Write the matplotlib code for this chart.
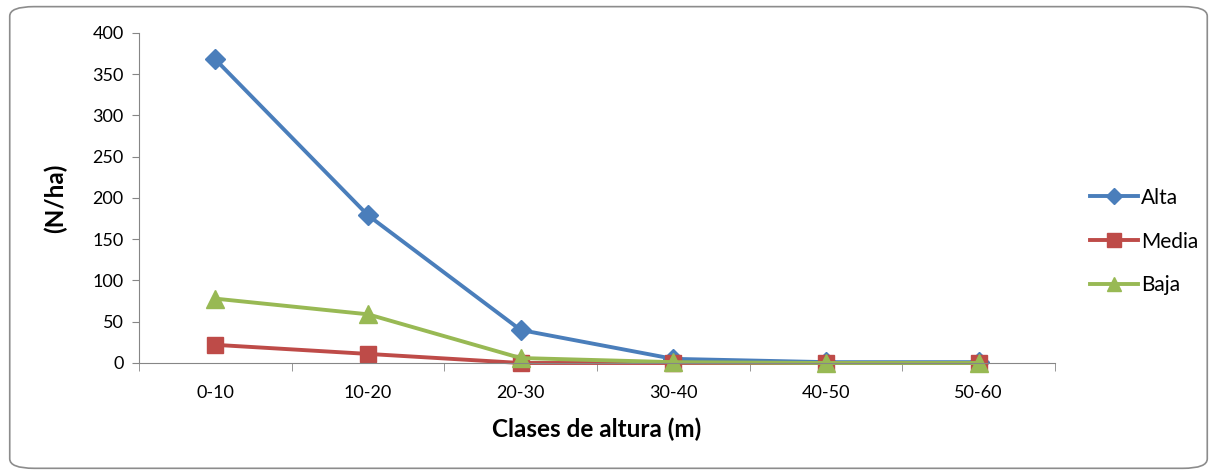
import numpy as np
from matplotlib import pyplot as plt
from matplotlib.patches import FancyBboxPatch

clases = ['0-10', '10-20', '20-30', '30-40', '40-50', '50-60']
alta = [368, 179, 40, 5, 1, 1]
media = [22, 11, 0, 0, 0, 0]
baja = [78, 59, 6, 1, 0, 0]

plt.rcParams['font.family'] = ['Lato', 'DejaVu Sans']

fig = plt.figure(figsize=(12.17, 4.74), dpi=100)
# rounded frame round the whole chart
frame = FancyBboxPatch((0.008, 0.012), 0.984, 0.974, boxstyle='round,pad=0,rounding_size=0.02',
                       transform=fig.transFigure, fill=False, edgecolor='#8c8c8c', linewidth=1.2)
fig.patches.append(frame)

ax = fig.add_axes([0.1142, 0.2342, 0.7527, 0.6962])
x = np.arange(len(clases))
ax.plot(x, alta, color='#4a7ebb', lw=2.8, marker='D', ms=10, label='Alta', clip_on=False)
ax.plot(x, media, color='#be4b48', lw=2.8, marker='s', ms=12, label='Media', clip_on=False)
ax.plot(x, baja, color='#98b954', lw=2.8, marker='^', ms=13, label='Baja', clip_on=False)

ax.set_xlim(-0.5, len(clases) - 0.5)
ax.set_ylim(0, 400)
ax.set_yticks(range(0, 401, 50))
ax.set_xticks(x)
ax.set_xticklabels(clases)
ax.set_xticks(np.arange(-0.5, len(clases), 1), minor=True)
ax.tick_params(axis='x', which='major', length=0, pad=16, labelsize=13)
ax.tick_params(axis='x', which='minor', length=6, color='#868686')
ax.tick_params(axis='y', length=5, color='#868686', labelsize=13, pad=6)
for s in ['top', 'right']:
    ax.spines[s].set_visible(False)
ax.spines['left'].set_color('#868686')
ax.spines['bottom'].set_color('#868686')
ax.patch.set_alpha(0)

ax.set_xlabel('Clases de altura (m)', fontsize=17.5, fontweight='bold', labelpad=12)
ax.set_ylabel('(N/ha)', fontsize=17.5, fontweight='bold', labelpad=18)

ax.legend(loc='center left', bbox_to_anchor=(0.88, 0.4905), bbox_transform=fig.transFigure,
          frameon=False, fontsize=15, handlelength=2.3, handletextpad=0.15, labelspacing=1.15,
          markerscale=0.8)

fig.savefig('out.png', dpi=100)
